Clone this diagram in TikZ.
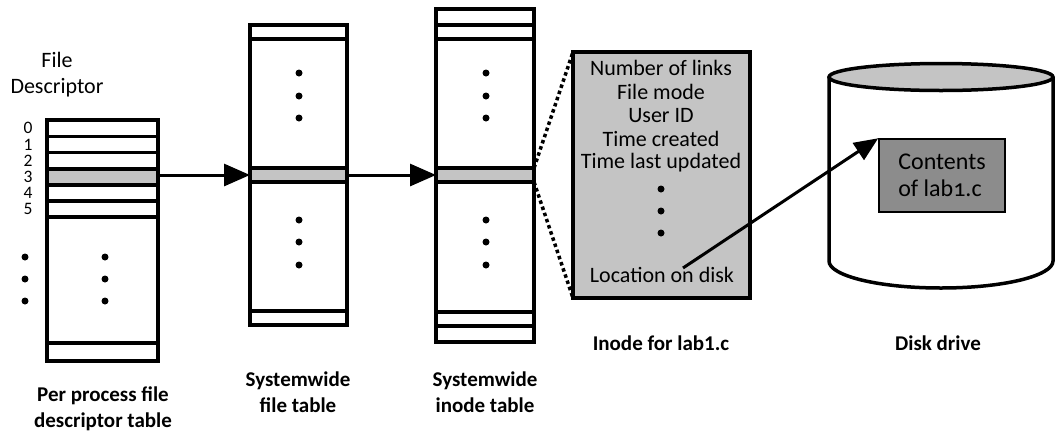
\documentclass[tikz,border=0pt]{standalone}
\usepackage{fontspec}
\setmainfont{Carlito}
\usetikzlibrary{arrows.meta}
\definecolor{lightgr}{HTML}{C4C4C4}
\definecolor{darkgr}{HTML}{8C8C8C}
\tikzset{
    tbl/.style={line width=3.5pt},
    sel/.style={fill=lightgr, draw=none, inner sep=0pt, outer sep=0pt},
    txt/.style={font=\fontsize{22}{24}\selectfont},
    lbl/.style={font=\fontsize{21}{26}\selectfont\bfseries, align=center},
    fat/.style={line width=3pt, -{Triangle[length=26pt,width=22pt]}},
    dots/.style={line width=3.5pt, dash pattern=on 3.5pt off 3pt},
}
\begin{document}
\begin{tikzpicture}[x=1pt,y=-1pt]
    \useasboundingbox (0,0) rectangle (1057,432);
    % per process table
    \node[sel, minimum width=111pt, minimum height=16pt] (fdsel) at (102.5,177) {};
    \draw[tbl] (47,120) rectangle (158,361);
    \foreach \y in {136.5,152.5,169,185,201,217,343}
        \draw[tbl] (47,\y) -- (158,\y);
    \foreach \n/\y in {0/128,1/145,2/161,3/177,4/193,5/209}
        \node[inner sep=0pt, font=\fontsize{17.5}{17.5}\selectfont] (fd\n) at (28,\y) {\n};
    \foreach \y in {257,279,301} {
        \fill (25,\y) circle (3.5);
        \fill (105,\y) circle (3.5);
    }
    \node[align=center, font=\fontsize{22}{26}\selectfont] (fdhead) at (57,75) {File\\Descriptor};
    \node[lbl] (fdname) at (103,409) {Per process file\\descriptor table};
    % systemwide file table
    \node[sel, minimum width=97pt, minimum height=14pt] (ftsel) at (298.5,175) {};
    \draw[tbl] (250,25) rectangle (347,325);
    \foreach \y in {39,168,182,311}
        \draw[tbl] (250,\y) -- (347,\y);
    \foreach \y in {73,96,118,220,242,265}
        \fill (299,\y) circle (3.5);
    \node[lbl] (ftname) at (298,392) {Systemwide\\file table};
    % systemwide inode table
    \node[sel, minimum width=98pt, minimum height=14pt] (itsel) at (485,175) {};
    \draw[tbl] (436,9) rectangle (534,342);
    \foreach \y in {25,39,168,182,312,326}
        \draw[tbl] (436,\y) -- (534,\y);
    \foreach \y in {73,96,118,220,242,265}
        \fill (486,\y) circle (3.5);
    \node[lbl] (itname) at (485,392) {Systemwide\\inode table};
    \draw[fat] (fdsel.east |- ftsel.west) -- (ftsel.west);
    \draw[fat] (ftsel.east) -- (itsel.west);
    % inode
    \node[draw, line width=3.5pt, fill=lightgr, minimum width=177pt, minimum height=246pt,
        inner sep=0pt, outer sep=0pt] (inode) at (661.5,175) {};
    \draw[dots] (itsel.north east) -- (inode.north west);
    \draw[dots] (itsel.south east) -- (inode.south west);
    \foreach \t/\y in {Number of links/68,File mode/92,User ID/116,Time created/139,Time last updated/163}
        \node[txt] (in\y) at (661,\y) {\t};
    \foreach \y in {189,211,233}
        \fill (661,\y) circle (3.5);
    \node[txt] (loc) at (662,275) {Location on disk};
    \node[lbl] (inname) at (661,343) {Inode for lab1.c};
    % disk drive
    \draw[tbl] (829,77) -- (829,261) arc[start angle=180, end angle=0, x radius=112, y radius=27]
        -- (1053,77);
    \draw[tbl, fill=lightgr] (941,77) ellipse[x radius=112, y radius=13.5];
    \node[draw, line width=1.5pt, fill=darkgr, minimum width=126pt, minimum height=73pt,
        align=left, font=\fontsize{24}{27}\selectfont] (contents) at (942,175.5)
        {Contents\\of lab\addfontfeatures{Numbers=OldStyle}1.c};
    \node[lbl] (dkname) at (938,343) {Disk drive};
    \coordinate (locpt) at (683,268);
    \draw[line width=3pt, -{Triangle[length=24pt,width=20pt]}] (locpt) -- (contents.north west);
\end{tikzpicture}
\end{document}
